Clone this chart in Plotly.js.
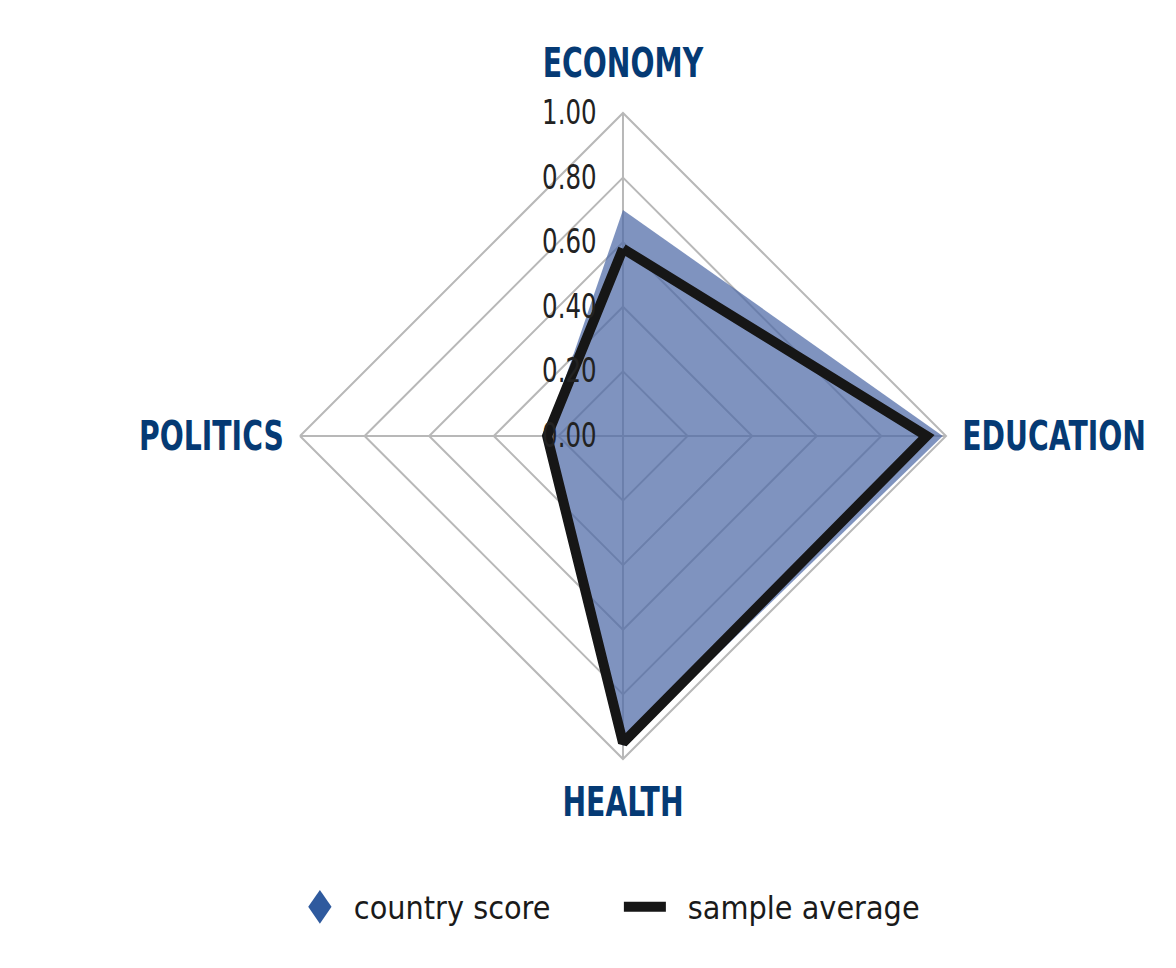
<!DOCTYPE html>
<html>
<head>
<meta charset="utf-8">
<script src="https://cdn.plot.ly/plotly-3.0.1.min.js"></script>
<style>
  html, body { margin: 0; padding: 0; background: #fff; }
  #chart { width: 1176px; height: 968px; }
</style>
</head>
<body>
<div id="chart"></div>
<script>
// Dimensions of the radar, clockwise from the top
const dimensions = ['ECONOMY', 'EDUCATION', 'HEALTH', 'POLITICS'];
const countryScore = [0.70, 0.99, 0.96, 0.24];
const sampleAverage = [0.58, 0.94, 0.95, 0.235];
const radialTicks = [0, 0.2, 0.4, 0.6, 0.8, 1.0];

const labelFont = '"DejaVu Sans", "Liberation Sans", sans-serif';

// close the polygon by repeating the first point
const closeLoop = arr => arr.concat([arr[0]]);

const countryTrace = {
    type: 'scatterpolar',
    r: closeLoop(countryScore),
    theta: closeLoop(dimensions),
    mode: 'lines',
    fill: 'toself',
    fillcolor: 'rgba(78, 106, 166, 0.72)',
    line: { width: 0, color: 'rgba(0,0,0,0)' },
    showlegend: false,
    hoverinfo: 'skip'
};

// legend-only entry for the diamond symbol
const countryLegend = {
    type: 'scatterpolar',
    r: [null],
    theta: [null],
    mode: 'markers',
    name: 'country score',
    marker: { symbol: 'diamond', size: 16, color: '#2f5a9e' }
};

const averageTrace = {
    type: 'scatterpolar',
    r: closeLoop(sampleAverage),
    theta: closeLoop(dimensions),
    mode: 'lines',
    name: 'sample average',
    line: { color: '#161616', width: 10 }
};

const layout = {
    width: 1176,
    height: 968,
    margin: { l: 0, r: 0, t: 0, b: 0 },
    paper_bgcolor: '#ffffff',
    plot_bgcolor: '#ffffff',
    font: { family: labelFont, color: '#1a1a1a' },
    showlegend: true,
    legend: {
        orientation: 'h',
        x: 0.255,
        xanchor: 'left',
        y: 0.063,
        yanchor: 'middle',
        font: { size: 32, color: '#1a1a1a', family: labelFont },
        entrywidth: 280,
        entrywidthmode: 'pixels',
        traceorder: 'normal'
    },
    polar: {
        domain: { x: [0.2551, 0.8044], y: [0.2159, 0.8833] },
        gridshape: 'linear',
        bgcolor: 'rgba(0,0,0,0)',
        radialaxis: {
            range: [0, 1],
            tickvals: radialTicks,
            tickformat: '.2f',
            angle: 90,
            side: 'counterclockwise',
            showline: false,
            gridcolor: '#b8b8b8',
            gridwidth: 2,
            ticks: 'outside',
            ticklen: 14,
            tickcolor: 'rgba(0,0,0,0)',
            tickangle: 90,
            tickfont: { size: 34, color: '#222222', family: labelFont }
        },
        angularaxis: {
            rotation: 90,
            direction: 'clockwise',
            categoryorder: 'array',
            categoryarray: dimensions,
            showline: true,
            linecolor: '#b8b8b8',
            linewidth: 2,
            gridcolor: '#b8b8b8',
            gridwidth: 2,
            ticks: 'outside',
            ticklen: 7,
            tickcolor: 'rgba(0,0,0,0)',
            tickfont: { size: 41, color: '#053a74', family: labelFont, weight: 'bold' }
        }
    }
};

// squeeze a text horizontally around its anchor point (condensed look)
function squeeze(t, k, dy) {
    const x0 = parseFloat(t.getAttribute('x')) || 0;
    const prev = t.getAttribute('transform') || '';
    t.setAttribute('transform',
        `${prev} translate(${x0},${dy || 0}) scale(${k},1) translate(${-x0},0)`);
}

function condense() {
    document.querySelectorAll('#chart svg text').forEach(t => {
        const s = t.textContent.trim();
        if (dimensions.includes(s)) squeeze(t, 0.69, s === dimensions[0] ? -12 : 0);
        else if (/^\d\.\d\d$/.test(s)) squeeze(t, 0.72, 0);
    });
    // legend: wider symbols and a bit more room before the text
    const shifts = [14, 23];
    document.querySelectorAll('#chart .legendtext').forEach((t, i) => {
        t.setAttribute('x', parseFloat(t.getAttribute('x')) + shifts[i]);
        squeeze(t, 0.9, 0);
    });
    document.querySelectorAll('#chart .legendpoints path.scatterpts').forEach(p => {
        p.setAttribute('transform', (p.getAttribute('transform') || '') + ' scale(1.12,1.62)');
    });
    document.querySelectorAll('#chart .legendlines path').forEach(p => {
        p.setAttribute('transform', 'translate(20,0) scale(1.4,1) translate(-20,0)');
    });
}

Plotly.newPlot('chart', [countryTrace, countryLegend, averageTrace], layout, { displayModeBar: false, staticPlot: true })
    .then(condense);
</script>
</body>
</html>
